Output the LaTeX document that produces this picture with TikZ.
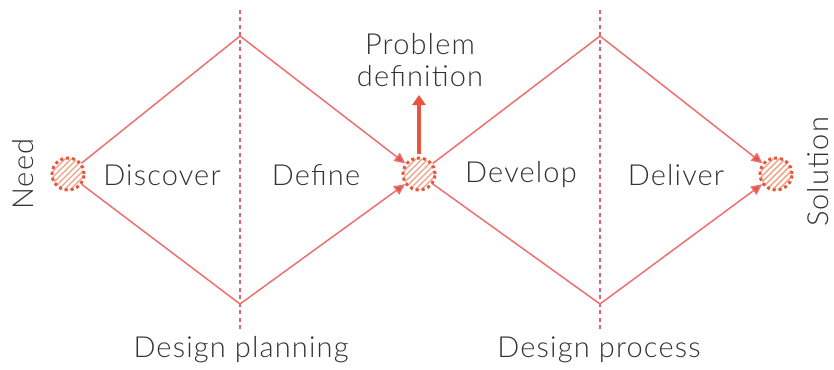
\documentclass[tikz,border=0pt]{standalone}
\usepackage{fontspec}
\setmainfont{Lato Light}[LetterSpace=4]
\usetikzlibrary{arrows.meta}
\definecolor{lineRed}{RGB}{236,112,112}
\definecolor{guideRed}{RGB}{226,96,112}
\definecolor{tipRed}{RGB}{232,84,62}
\definecolor{hatchOrange}{RGB}{242,160,130}
\definecolor{textGray}{RGB}{50,50,50}
\begin{document}
\begin{tikzpicture}[x=1pt,y=-1pt,
  flow/.style={draw=lineRed,line width=1.5pt},
  flowin/.style={flow,-{Triangle[length=11pt,width=10pt,fill=tipRed]}},
  guide/.style={draw=guideRed,line width=2.6pt,dash pattern=on 4pt off 3.5pt},
  label/.style={text=textGray,font=\fontsize{29}{32}\selectfont,inner sep=0pt},
  stage/.style={circle,minimum size=34pt,inner sep=0pt},
]
\useasboundingbox (0,0) rectangle (834,369);

% phase dividers
\coordinate (g1t) at (240,10); \coordinate (g1b) at (240,332);
\coordinate (g2t) at (600,10); \coordinate (g2b) at (600,332);
\draw[guide] (g1t) -- (g1b);
\draw[guide] (g2t) -- (g2b);

% stage circles
\node[stage] (need) at (68,174) {};
\node[stage] (mid) at (419,174) {};
\node[stage] (sol) at (776,174) {};

% diamond corners
\coordinate (t1) at (240,36);
\coordinate (b1) at (240,304);
\coordinate (t2) at (600,36);
\coordinate (b2) at (600,304);

% double diamond
\draw[flow] (need) -- (t1);
\draw[flow] (need) -- (b1);
\draw[flowin] (t1) -- (mid);
\draw[flowin] (b1) -- (mid);
\draw[flow] (mid) -- (t2);
\draw[flow] (mid) -- (b2);
\draw[flowin] (t2) -- (sol);
\draw[flowin] (b2) -- (sol);

% hatched dotted circles
\foreach \c in {need,mid,sol}{
  \begin{scope}
    \clip (\c.center) circle (16pt);
    \fill[white] (\c.center) circle (16pt);
    \foreach \k in {-30,-24,...,30}{
      \draw[hatchOrange,line width=1.4pt] ([shift={(\k-30,30)}]\c.center) -- ([shift={(\k+30,-30)}]\c.center);
    }
  \end{scope}
  \draw[tipRed,line width=3pt,dash pattern=on 3pt off 3pt] (\c.center) circle (16pt);
}

% problem definition arrow
\coordinate (pd) at (419,95);
\draw[draw=tipRed,line width=3.5pt,-{Triangle[length=10pt,width=13pt]}] (mid.north) ++(0,-3) -- (pd);

% labels
\node[label] (pdl) at (420,64) {\begin{tabular}{@{}c@{}}Problem\\[0pt]definition\end{tabular}};
\node[label] (discover) at (162,175) {Discover};
\node[label] (define) at (316,175) {Define};
\node[label] (develop) at (521,175) {Develop};
\node[label] (deliver) at (676,175) {Deliver};
\node[label] (plan) at (241,350) {Design planning};
\node[label] (proc) at (599,350) {Design process};
\node[label,rotate=90] (needl) at (23,174) {Need};
\node[label,rotate=90] (soll) at (818,172) {Solution};
\end{tikzpicture}
\end{document}
